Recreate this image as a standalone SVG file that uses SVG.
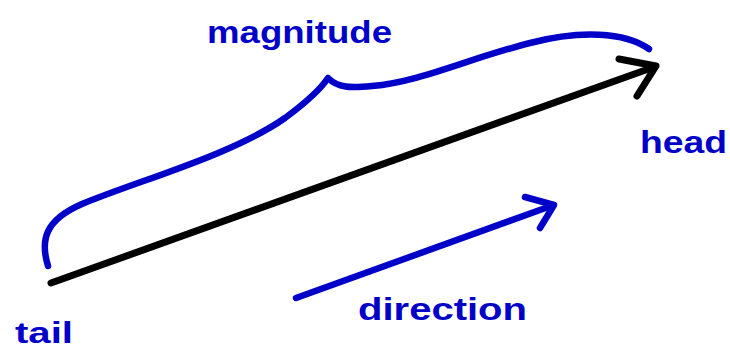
<svg xmlns="http://www.w3.org/2000/svg" width="730" height="351" viewBox="0 0 730 351">
<style>
.lbl{font-family:"Liberation Sans","DejaVu Sans",sans-serif;font-weight:bold;fill:#0000c8;font-size:32px}
.blk{fill:none;stroke:#000;stroke-width:7;stroke-linecap:round;stroke-linejoin:round}
.blu{fill:none;stroke:#0000c8;stroke-width:6.5;stroke-linecap:round;stroke-linejoin:round}
</style>
<rect width="730" height="351" fill="#fff"/>
<g id="connectors">
<g id="vector">
<line class="blk" x1="51" y1="283" x2="654" y2="67"/>
<polyline class="blk" points="619,59 656,66 637,96"/>
</g>
<g id="direction-arrow">
<line class="blu" x1="296" y1="298" x2="551" y2="206"/>
<polyline class="blu" points="525,197 554,205 540,228"/>
</g>
<path id="brace" class="blu" d="M48,266 C40,240 45,220 82,204 C140,180 232,155 285,118 C308,101 320,90 328,78 C338,88 350,88 372,86 C420,82 470,58 530,43 C580,30 625,32 649,49"/>
</g>
<g id="magnitude"><text class="lbl" x="207" y="43" textLength="185" lengthAdjust="spacingAndGlyphs">magnitude</text></g>
<g id="head"><text class="lbl" x="640" y="153" textLength="87" lengthAdjust="spacingAndGlyphs">head</text></g>
<g id="tail"><text class="lbl" x="15" y="343" font-size="30" style="font-size:30px" textLength="58" lengthAdjust="spacingAndGlyphs">tail</text></g>
<g id="direction"><text class="lbl" x="358" y="320" textLength="169" lengthAdjust="spacingAndGlyphs">direction</text></g>
</svg>
